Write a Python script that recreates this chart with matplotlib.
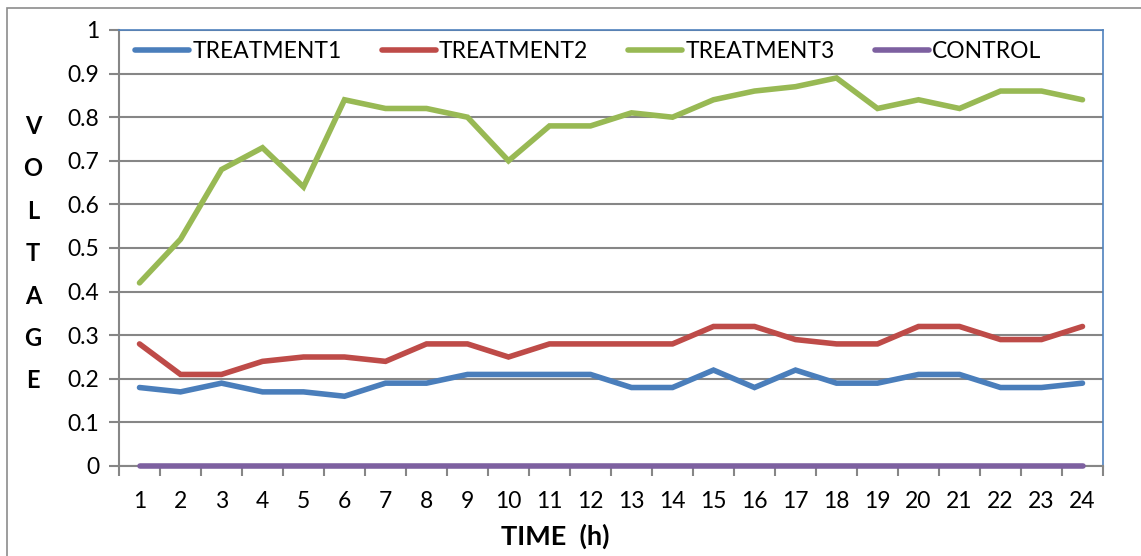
import matplotlib.pyplot as plt
import matplotlib.ticker as ticker
from matplotlib.patches import Rectangle

plt.rcParams['font.family'] = ['Lato', 'DejaVu Sans']

hours = list(range(1, 25))
treatment1 = [0.18, 0.17, 0.19, 0.17, 0.17, 0.16, 0.19, 0.19, 0.21, 0.21, 0.21, 0.21,
              0.18, 0.18, 0.22, 0.18, 0.22, 0.19, 0.19, 0.21, 0.21, 0.18, 0.18, 0.19]
treatment2 = [0.28, 0.21, 0.21, 0.24, 0.25, 0.25, 0.24, 0.28, 0.28, 0.25, 0.28, 0.28,
              0.28, 0.28, 0.32, 0.32, 0.29, 0.28, 0.28, 0.32, 0.32, 0.29, 0.29, 0.32]
treatment3 = [0.42, 0.52, 0.68, 0.73, 0.64, 0.84, 0.82, 0.82, 0.80, 0.70, 0.78, 0.78,
              0.81, 0.80, 0.84, 0.86, 0.87, 0.89, 0.82, 0.84, 0.82, 0.86, 0.86, 0.84]
control = [0] * 24
series_names = ["TREATMENT1", "TREATMENT2", "TREATMENT3", "CONTROL"]
colors = ['#4A7EBB', '#BE4B48', '#98B954', '#7D60A0']

fig = plt.figure(figsize=(11.41, 5.56), dpi=100)
ax = fig.add_axes([119/1141, 1 - 466/556, (1103-119)/1141, (466-30)/556])

# outer chart border
fig.patches.append(Rectangle((7/1141, -0.1), 1.2, 1 - 8/556 + 0.1, transform=fig.transFigure,
                             fill=False, edgecolor='#8c8c8c', linewidth=1.2))

for vals, name, c in zip([treatment1, treatment2, treatment3, control], series_names, colors):
    ax.plot(hours, vals, color=c, linewidth=4, label=name, solid_capstyle='round',
            solid_joinstyle='miter', zorder=3, clip_on=False)

ax.set_xlim(0.5, 24.5)
ax.set_ylim(0, 1)
ax.yaxis.set_major_locator(ticker.MultipleLocator(0.1))
ax.yaxis.set_major_formatter(ticker.FuncFormatter(lambda v, p: f"{v:g}" if v not in (0, 1) else str(int(round(v)))))
ax.set_xticks(hours)
ax.set_xticks([h + 0.5 for h in range(0, 25)], minor=True)
ax.tick_params(axis='x', which='major', length=0, pad=18, labelsize=16.5)
ax.tick_params(axis='x', which='minor', length=7, width=1.5, color='#868686')
ax.tick_params(axis='y', length=7, width=1.5, color='#868686', labelsize=16.5, pad=7)

ax.grid(True, axis='y', color='#868686', linewidth=1.5, zorder=0)
ax.spines['left'].set_color('#868686')
ax.spines['left'].set_linewidth(1.5)
ax.spines['bottom'].set_color('#868686')
ax.spines['bottom'].set_linewidth(1.5)
ax.spines['top'].set_color('#4F81BD')
ax.spines['right'].set_color('#4F81BD')
ax.spines['top'].set_linewidth(1.2)
ax.spines['right'].set_linewidth(1.2)

ax.set_xlabel("TIME  (h)", fontsize=19.5, fontweight='bold')
ax.xaxis.set_label_coords((555 - 119) / 984, (466 - 524) / 436)

for i, ch in enumerate("VOLTAGE"):
    fig.text(33/1141, 1 - (126 + i * 42.5)/556, ch, fontsize=17, fontweight='bold',
             ha='center', va='center')

ax.legend(loc='upper left', bbox_to_anchor=(0.0, 1.012), ncol=4, frameon=False,
          fontsize=16.5, handlelength=2.35, handletextpad=0.15, columnspacing=1.75,
          borderaxespad=0.3)

plt.savefig("out.png", dpi=100)
